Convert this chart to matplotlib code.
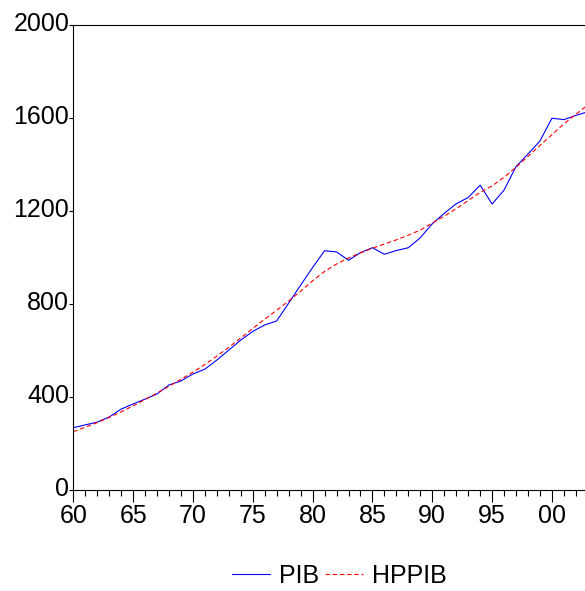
import matplotlib
matplotlib.use("Agg")
import matplotlib.pyplot as plt
import matplotlib.transforms as mtransforms
from matplotlib.ticker import MultipleLocator, FixedLocator

plt.rcParams['font.family'] = ['Liberation Sans', 'DejaVu Sans']

# %% Data
years = list(range(1960, 2004))
pib = [268, 280, 292, 314, 348, 370, 391, 413, 452, 469,
       499, 520, 559, 602, 645, 682, 710, 727, 804, 881,
       957, 1029, 1024, 988, 1021, 1042, 1014, 1030, 1042, 1085,
       1145, 1190, 1231, 1258, 1311, 1230, 1290, 1391, 1445, 1501,
       1599, 1593, 1611, 1627]
hppib = [251, 270, 290, 312, 336, 362, 389, 417, 446, 476,
         507, 540, 576, 614, 654, 695, 735, 773, 813, 855,
         900, 940, 972, 998, 1020, 1040, 1058, 1076, 1096, 1118,
         1148, 1178, 1210, 1245, 1280, 1308, 1345, 1388, 1435, 1482,
         1528, 1575, 1616, 1656]
yticks = [0, 400, 800, 1200, 1600, 2000]
xticks = [1960, 1965, 1970, 1975, 1980, 1985, 1990, 1995, 2000]
xlabels = ['60', '65', '70', '75', '80', '85', '90', '95', '00']

# %% Plot
fig = plt.figure(figsize=(5.85, 5.91), dpi=100)
ax = fig.add_axes([0.1253, 0.1709, 0.8795, 0.7868])

ax.plot(years, pib, color='#0000ff', lw=0.8, label='PIB')
ax.plot(years, hppib, color='#ff0000', lw=0.8, linestyle=(0, (4, 2.5)), label='HPPIB')

ax.set_xlim(1960, 2003)
ax.set_ylim(0, 2000)
ax.spines['right'].set_visible(False)
for s in ['left', 'bottom', 'top']:
    ax.spines[s].set_linewidth(0.8)

ax.xaxis.set_major_locator(FixedLocator(xticks))
ax.set_xticklabels(xlabels)
ax.xaxis.set_minor_locator(MultipleLocator(1))
ax.set_yticks(yticks)
ax.tick_params(axis='x', which='major', direction='out', length=8.5, width=0.8,
               labelsize=18, pad=1.5, top=False)
ax.tick_params(axis='x', which='minor', direction='out', length=4.5, width=0.8, top=False)
ax.tick_params(axis='y', direction='out', length=3, width=0.8, labelsize=18, pad=0)

# EViews puts the y labels a touch above the tick
offset = mtransforms.ScaledTranslation(0, 3 / 100, fig.dpi_scale_trans)
for lab in ax.get_yticklabels():
    lab.set_transform(lab.get_transform() + offset)

fig.legend(loc='center', bbox_to_anchor=(0.58, 0.025), ncol=2, frameon=False,
           fontsize=18, handlelength=1.5, handletextpad=0.36, columnspacing=0.25)

fig.savefig('out.png', dpi=100)
